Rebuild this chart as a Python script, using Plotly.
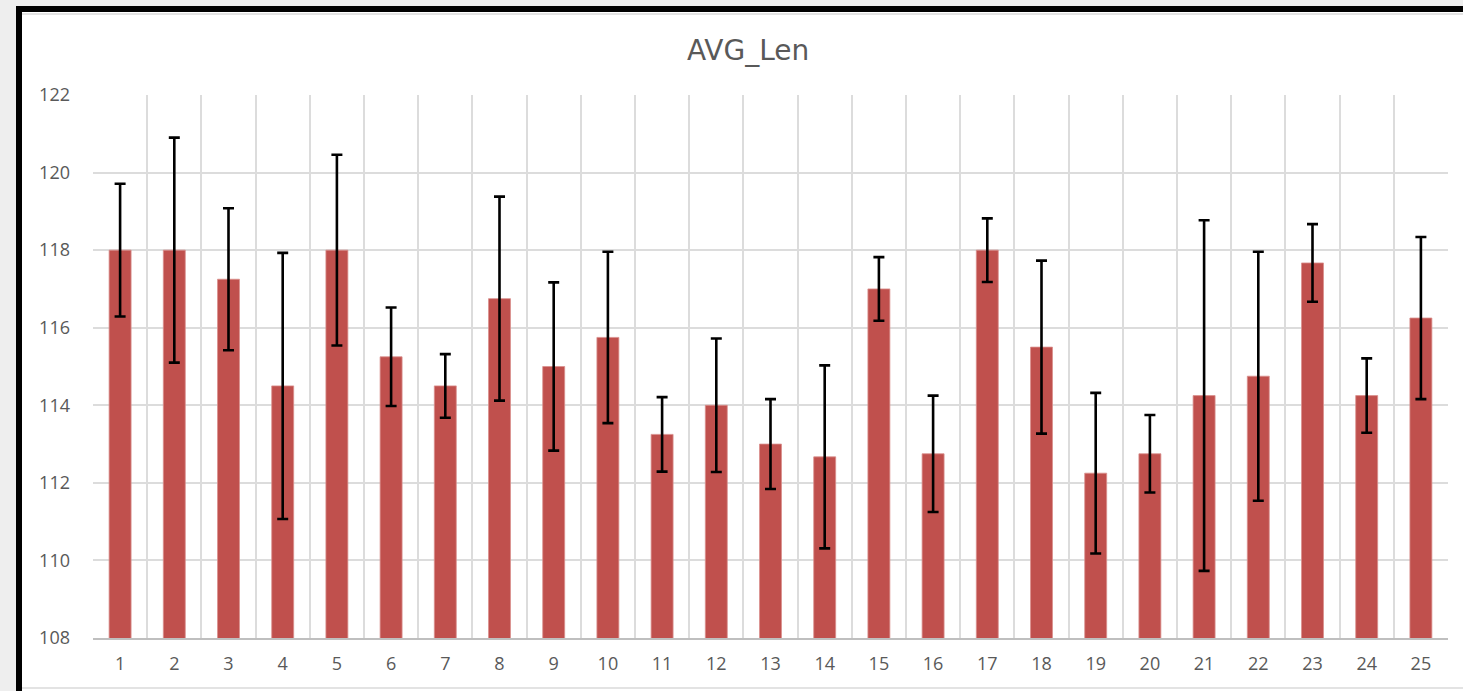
import plotly.graph_objects as go

# ---- data ----
categories = [str(i) for i in range(1, 26)]
avg_len = [118, 118, 117.25, 114.5, 118, 115.25, 114.5, 116.75, 115, 115.75,
           113.25, 114, 113, 112.67, 117, 112.75, 118, 115.5, 112.25, 112.75,
           114.25, 114.75, 117.67, 114.25, 116.25]
err = [1.71, 2.9, 1.83, 3.43, 2.46, 1.27, 0.82, 2.63, 2.17, 2.21,
       0.96, 1.72, 1.16, 2.36, 0.82, 1.5, 0.82, 2.23, 2.07, 1.0,
       4.52, 3.21, 1.0, 0.96, 2.09]
y_ticks = [108, 110, 112, 114, 116, 118, 120, 122]
title_text = "AVG_Len"

# ---- geometry (pixels) ----
W, H = 1463, 691
L, R, T, B = 93, 1448, 95, 638
pw, ph = R - L, B - T


def px(x):
    return (x - L) / pw


def py(y):
    return (B - y) / ph


FONT = "Open Sans"
GREY_TXT = "#595959"

fig = go.Figure()
fig.add_trace(go.Bar(
    x=categories, y=avg_len,
    marker=dict(color="#C0504D", line=dict(color="#d98f8d", width=0.8)),
    error_y=dict(type="data", array=err, visible=True, color="black",
                 thickness=2.6, width=5.5),
    hoverinfo="x+y",
))

shapes = [
    dict(type="rect", xref="paper", yref="paper", layer="below",
         x0=px(16), x1=px(1475), y0=py(6), y1=py(700),
         fillcolor="white", line=dict(width=0)),
    dict(type="rect", xref="paper", yref="paper", layer="below",
         x0=px(16), x1=px(22), y0=py(6), y1=py(700),
         fillcolor="black", line=dict(width=0)),
    dict(type="rect", xref="paper", yref="paper", layer="below",
         x0=px(16), x1=px(1475), y0=py(6), y1=py(12),
         fillcolor="black", line=dict(width=0)),
    dict(type="line", xref="paper", yref="paper", layer="below",
         x0=px(22), x1=px(1475), y0=py(14), y1=py(14),
         line=dict(color="#e3e3e3", width=2)),
    dict(type="line", xref="paper", yref="paper", layer="below",
         x0=px(22), x1=px(1475), y0=py(688), y1=py(688),
         line=dict(color="#e3e3e3", width=2)),
]

fig.update_layout(
    width=W, height=H,
    margin=dict(l=L, r=W - R, t=T, b=H - B, pad=0),
    paper_bgcolor="#eeeeee",
    plot_bgcolor="white",
    showlegend=False,
    bargap=0.595,
    shapes=shapes,
    annotations=[dict(text=title_text, xref="paper", yref="paper",
                      x=px(748), y=py(50), xanchor="center", yanchor="middle",
                      showarrow=False,
                      font=dict(family="DejaVu Sans", size=28, color=GREY_TXT))],
    xaxis=dict(type="category", tickson="boundaries", showgrid=True,
               gridcolor="#dcdcdc", gridwidth=1.5, ticks="", ticklen=0,
               showline=True, linecolor="#bfbfbf", linewidth=1.5,
               tickfont=dict(family=FONT, size=18, color=GREY_TXT),
               ticklabelstandoff=9, zeroline=False),
    yaxis=dict(range=[108, 122], tickvals=y_ticks, showgrid=True,
               gridcolor="#dcdcdc", gridwidth=1.5, ticks="",
               showline=False, zeroline=False,
               tickfont=dict(family=FONT, size=18, color=GREY_TXT),
               ticklabelstandoff=22),
)

fig.write_html("out.html",
               config={"displayModeBar": False},
               post_script="document.body.style.margin='0px';"
                           "document.body.style.overflow='hidden';")
